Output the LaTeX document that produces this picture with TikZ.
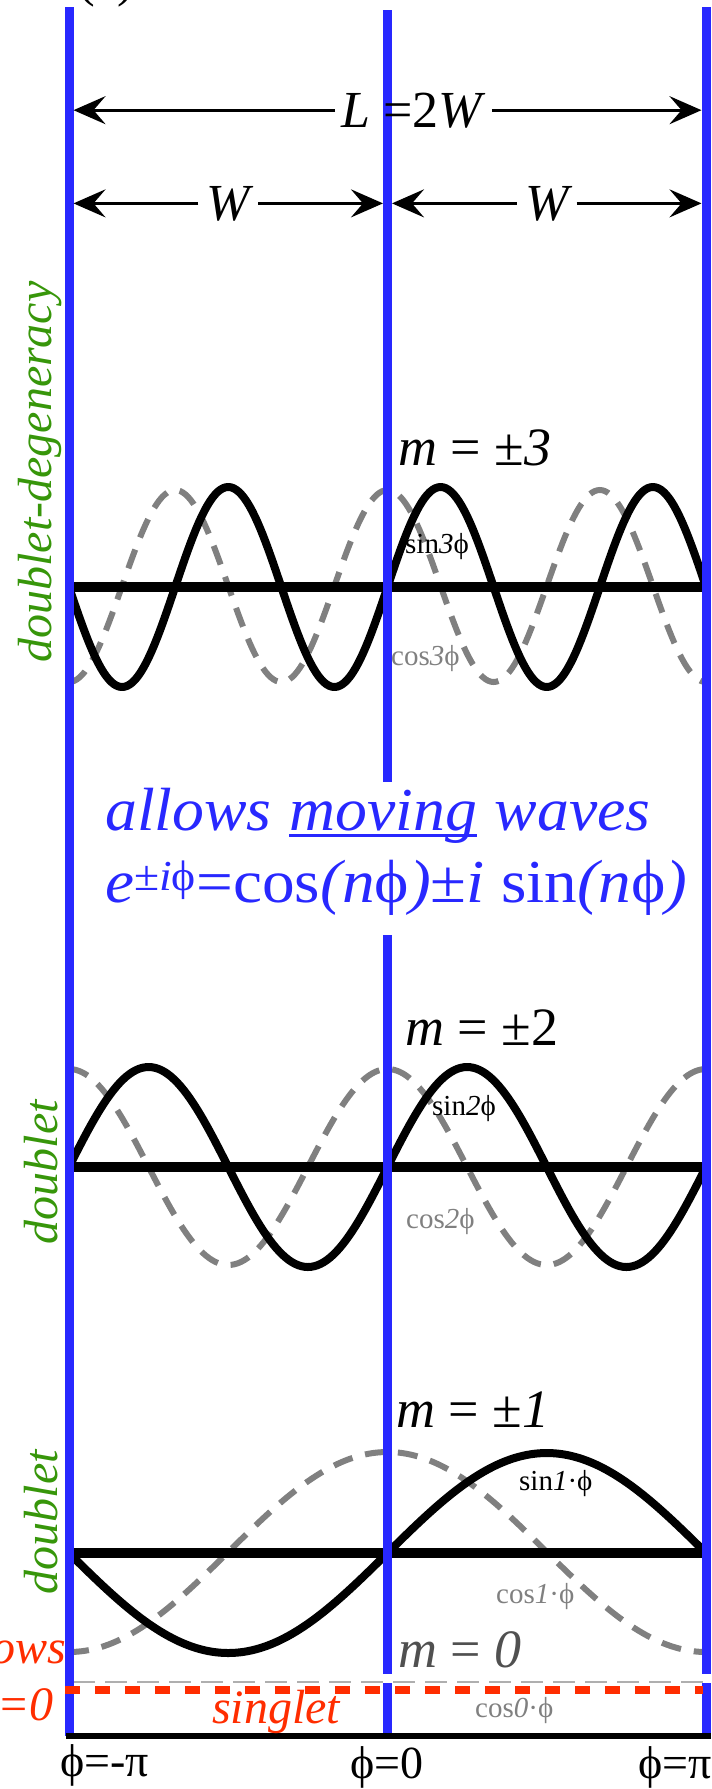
\documentclass[tikz,border=0pt]{standalone}
\usepackage{fontspec}
\setmainfont{Liberation Serif}
\usetikzlibrary{arrows.meta}
\definecolor{wallblue}{RGB}{40,40,255}
\definecolor{lblgreen}{RGB}{55,150,10}
\definecolor{sgred}{RGB}{255,45,0}
\definecolor{wgray}{RGB}{128,128,128}
\definecolor{lgray}{RGB}{175,175,175}
\definecolor{mzgray}{RGB}{80,80,80}
\newcommand{\fsz}[1]{\fontsize{#1}{#1}\selectfont}
\newcommand{\ulin}[1]{\tikz[baseline=(u.base)]{\node[inner sep=0pt] (u) {#1};\draw[line width=3pt, wallblue] ([yshift=-5pt]u.base west) -- ([yshift=-5pt]u.base east);}}
\begin{document}
\begin{tikzpicture}[x=1pt,y=-1pt,
  wall/.style={line width=9pt, draw=wallblue},
  axisline/.style={line width=10pt, draw=black},
  sinwave/.style={line width=8pt, draw=black, line join=round},
  coswave/.style={line width=6pt, draw=wgray, dash pattern=on 20pt off 13pt},
  dimarrow/.style={line width=3pt, -{Stealth[length=32pt,width=28pt,inset=12pt]}},
  lbl/.style={inner sep=0pt, anchor=base west},
  mlabel/.style={lbl, font=\fsz{54}},
  small/.style={lbl, font=\fsz{29}},
  greenlbl/.style={inner sep=0pt, rotate=90, text=lblgreen, font=\fsz{48}\itshape},
  bluetxt/.style={lbl, text=wallblue},
  philbl/.style={inner sep=0pt, font=\fsz{46}},
]
\useasboundingbox (0,0) rectangle (712,1789);
\clip (0,0) rectangle (712,1789);

% wall edges used by the dimension arrows
\coordinate (lw) at (73.5,0);
\coordinate (mwl) at (383,0);
\coordinate (mwr) at (392,0);
\coordinate (rw) at (701.5,0);

% cut-off panel tag
\node[lbl, font=\fsz{50}] (tag) at (78,-4) {(a)};

% ---------- m = +-3 ----------
\draw[coswave] plot[domain=-180:180,samples=241] ({387.5+\x/180*318.5},{586-96*cos(3*\x)});
\draw[sinwave] plot[domain=-180:180,samples=241] ({387.5+\x/180*318.5},{587-100*sin(3*\x)});
\draw[axisline] (69,587) -- (706,587);

% ---------- m = +-2 ----------
\draw[coswave] plot[domain=-180:180,samples=201] ({387.5+\x/180*318.5},{1167-98*cos(2*\x)});
\draw[sinwave] plot[domain=-180:180,samples=201] ({387.5+\x/180*318.5},{1167-100*sin(2*\x)});
\draw[axisline] (69,1167) -- (706,1167);

% ---------- m = +-1 ----------
\draw[coswave] plot[domain=-180:180,samples=161] ({387.5+\x/180*318.5},{1552-100*cos(\x)});
\draw[sinwave] plot[domain=-180:180,samples=161] ({387.5+\x/180*318.5},{1553-100*sin(\x)});
\draw[axisline] (69,1553) -- (706,1553);

% ---------- m = 0 ----------
\draw[line width=2.5pt, draw=lgray, dash pattern=on 22pt off 10pt] (73,1682) -- (704,1682);

% ---------- walls ----------
\draw[wall] (69,7) -- (69,1736);
\draw[wall] (387.5,10) -- (387.5,782);
\draw[wall] (387.5,935) -- (387.5,1674);
\draw[wall] (387.5,1683) -- (387.5,1736);
\draw[wall] (706.5,7) -- (706.5,1674);
\draw[wall] (706.5,1683) -- (706.5,1734);

\draw[line width=8pt, draw=sgred, dash pattern=on 15pt off 15pt] (65,1690) -- (703,1690);
\draw[line width=6pt, draw=black] (66,1736) -- (711,1736);

% ---------- dimensions ----------
\node[lbl, inner xsep=6pt, font=\fsz{52}] (L2W) at (335,127) {\textit{L} =2\textit{W}};
\draw[dimarrow] (L2W.west) -- (L2W.west -| lw);
\draw[dimarrow] (L2W.east) -- (L2W.east -| rw);
\node[inner xsep=8pt, inner ysep=0pt, anchor=base, font=\fsz{52}\itshape] (WL) at (228.25,220) {W};
\node[inner xsep=8pt, inner ysep=0pt, anchor=base, font=\fsz{52}\itshape] (WR) at (546.75,220) {W};
\draw[dimarrow] (WL.west) -- (WL.west -| lw);
\draw[dimarrow] (WL.east) -- (WL.east -| mwl);
\draw[dimarrow] (WR.west) -- (WR.west -| mwr);
\draw[dimarrow] (WR.east) -- (WR.east -| rw);

% ---------- labels ----------
\node[greenlbl] (dd) at (40,472) {doublet-degeneracy};
\node[greenlbl] (d2) at (41,1172) {doublet};
\node[greenlbl] (d1) at (41,1522) {doublet};

\node[mlabel] (m3) at (398,465) {\textit{m} = ±\textit{3}};
\node[small] (s3) at (405,553) {sin\textit{3}ϕ};
\node[small, text=wgray] (c3) at (391,665) {cos\textit{3}ϕ};

\node[bluetxt, font=\fsz{61}\itshape] (mw) at (105,830) {\scalebox{1.045}[1]{allows \ulin{moving} waves}};
\node[bluetxt, font=\fsz{61}] (eq) at (105,902) {\scalebox{1.07}[1]{\textit{e}\textsuperscript{±\textit{i}ϕ}=cos\textit{(n}ϕ\textit{)}±\textit{i} sin\textit{(n}ϕ\textit{)}}};

\node[mlabel] (m2) at (405,1045) {\textit{m} = ±2};
\node[small] (s2) at (432,1115) {sin\textit{2}ϕ};
\node[small, text=wgray] (c2) at (406,1228) {cos\textit{2}ϕ};

\node[mlabel] (m1) at (396,1427) {\textit{m} = ±\textit{1}};
\node[small] (s1) at (519,1490) {sin\textit{1}·ϕ};
\node[small, text=wgray] (c1) at (496,1603) {cos\textit{1}·ϕ};
\node[mlabel, text=mzgray] (m0) at (398,1667) {\textit{m} = \textit{0}};
\node[small, text=wgray] (c0) at (475,1717) {cos\textit{0}·ϕ};

\node[inner sep=0pt, anchor=base east, text=sgred, font=\fsz{48}\itshape] (ows) at (66,1663) {allows};
\node[inner sep=0pt, anchor=base east, text=sgred, font=\fsz{48}\itshape] (eq0) at (54,1720) {m=0};
\node[lbl, text=sgred, font=\fsz{48}\itshape] (sg) at (212,1723) {singlet};

\node[philbl, anchor=base west] (pm) at (60,1776) {ϕ=-π};
\node[philbl, anchor=base west] (p0) at (350,1778) {ϕ=0};
\node[philbl, anchor=base east] (pp) at (712,1778) {ϕ=π};
\end{tikzpicture}
\end{document}
